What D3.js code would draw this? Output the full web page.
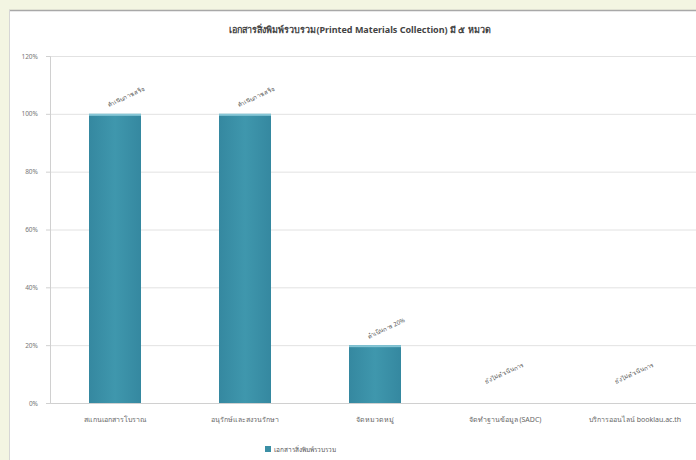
<!DOCTYPE html>
<html>
<head>
<meta charset="utf-8">
<script src="https://cdn.jsdelivr.net/npm/d3@7"></script>
<style>
  body { margin: 0; background: #f3f5e2; }
  .grid line { stroke: #e2e2e2; }
  .grid path { display: none; }
</style>
</head>
<body>
<div id="chart"></div>
<script>
var categories = ["สแกนเอกสารโบราณ", "อนุรักษ์และสงวนรักษา", "จัดหมวดหมู่", "จัดทำฐานข้อมูล (SADC)", "บริการออนไลน์ booklau.ac.th"];
var values = [100, 100, 20, 0, 0];
var barLabels = ["ดำเนินการเสร็จ", "ดำเนินการเสร็จ", "ดำเนินการ 20%", "ยังไม่ดำเนินการ", "ยังไม่ดำเนินการ"];
var yTicks = [0, 20, 40, 60, 80, 100, 120];
var seriesName = "เอกสารสิ่งพิมพ์รวบรวม";
var title = "เอกสารสิ่งพิมพ์รวบรวม(Printed Materials Collection) มี ๕ หมวด";

var W = 696, H = 460;
var margin = { top: 56, right: -4, bottom: 57, left: 50 },
    width = W - margin.left - margin.right,
    height = H - margin.top - margin.bottom;

var svg = d3.select("#chart").append("svg")
    .attr("width", W)
    .attr("height", H)
    .style("display", "block");

// white panel
svg.append("rect")
    .attr("x", 9).attr("y", 10)
    .attr("width", W).attr("height", H)
    .attr("fill", "#ffffff");
svg.append("line")
    .attr("x1", 9).attr("x2", W).attr("y1", 10.5).attr("y2", 10.5)
    .attr("stroke", "#a8a8a8").attr("stroke-width", 1.5);
svg.append("line")
    .attr("x1", 9.5).attr("x2", 9.5).attr("y1", 10).attr("y2", H)
    .attr("stroke", "#d6d6d6");

var g = svg.append("g")
    .attr("transform", "translate(" + margin.left + "," + margin.top + ")");

var xscale = d3.scaleBand().domain(categories).range([0, width]).paddingInner(0.6).paddingOuter(0.3);
var yscale = d3.scaleLinear().domain([0, 120]).range([height, 0]);

// Title
svg.append("text")
    .attr("x", 360)
    .attr("y", 33)
    .attr("text-anchor", "middle")
    .style("font-family", "Noto Sans, DejaVu Sans, sans-serif")
    .style("font-size", "9px")
    .style("font-weight", "bold")
    .attr("fill", "#444")
    .text(title);

// gridlines
g.append("g")
    .attr("class", "grid")
    .call(d3.axisLeft(yscale).tickValues(yTicks).tickSize(-width).tickFormat(""));

// y axis
var yAxis = g.append("g")
    .call(d3.axisLeft(yscale).tickValues(yTicks).tickSize(4).tickFormat(function (d) { return d + "%"; }));
yAxis.select(".domain").attr("stroke", "#d0d0d0");
yAxis.selectAll(".tick line").attr("stroke", "#d0d0d0");
yAxis.selectAll("text")
    .attr("x", -12)
    .style("font-family", "Noto Sans, DejaVu Sans, sans-serif")
    .style("font-size", "6.5px")
    .attr("fill", "#777");

// x axis
var xAxis = g.append("g")
    .attr("transform", "translate(0," + height + ")")
    .call(d3.axisBottom(xscale).tickSize(0));
xAxis.select(".domain").attr("stroke", "#d0d0d0");
xAxis.selectAll("text")
    .attr("dy", "2.3em")
    .style("font-family", "Noto Sans, DejaVu Sans, sans-serif")
    .style("font-size", "7px")
    .attr("fill", "#666");

var grad = svg.append("defs").append("linearGradient")
    .attr("id", "barGrad").attr("x1", 0).attr("x2", 1).attr("y1", 0).attr("y2", 0);
grad.append("stop").attr("offset", "0%").attr("stop-color", "#3588a0");
grad.append("stop").attr("offset", "50%").attr("stop-color", "#3f97ad");
grad.append("stop").attr("offset", "100%").attr("stop-color", "#3588a0");

// bars
g.selectAll(".bar")
    .data(values)
    .enter().append("rect")
    .attr("class", "bar")
    .attr("x", function (d, i) { return xscale(categories[i]); })
    .attr("y", function (d) { return yscale(d); })
    .attr("width", xscale.bandwidth())
    .attr("height", function (d) { return height - yscale(d); })
    .attr("fill", "url(#barGrad)");

g.selectAll(".bartop")
    .data(values.filter(function (d) { return d > 0; }))
    .enter().append("rect")
    .attr("x", function (d, i) { return xscale(categories[i]); })
    .attr("y", function (d) { return yscale(d); })
    .attr("width", xscale.bandwidth())
    .attr("height", 2)
    .attr("fill", "#86c6d6");

// rotated value labels
g.selectAll(".lbl")
    .data(values)
    .enter().append("text")
    .attr("transform", function (d, i) {
        var cx = xscale(categories[i]) + xscale.bandwidth() / 2 + (d > 0 ? 12 : 0);
        var cy = yscale(d) - (d > 0 ? 15 : 28);
        return "translate(" + cx + "," + cy + ")rotate(-25)";
    })
    .attr("text-anchor", "middle")
    .style("font-family", "Noto Sans, DejaVu Sans, sans-serif")
    .style("font-size", "6px")
    .attr("fill", "#555")
    .text(function (d, i) { return barLabels[i]; });

// legend
var legend = svg.append("g").attr("transform", "translate(265,446)");
legend.append("rect")
    .attr("width", 6).attr("height", 6)
    .attr("fill", "#3b8fa5");
legend.append("text")
    .attr("x", 9).attr("y", 5.5)
    .style("font-family", "Noto Sans, DejaVu Sans, sans-serif")
    .style("font-size", "6.5px")
    .attr("fill", "#555")
    .text(seriesName);
</script>
</body>
</html>
